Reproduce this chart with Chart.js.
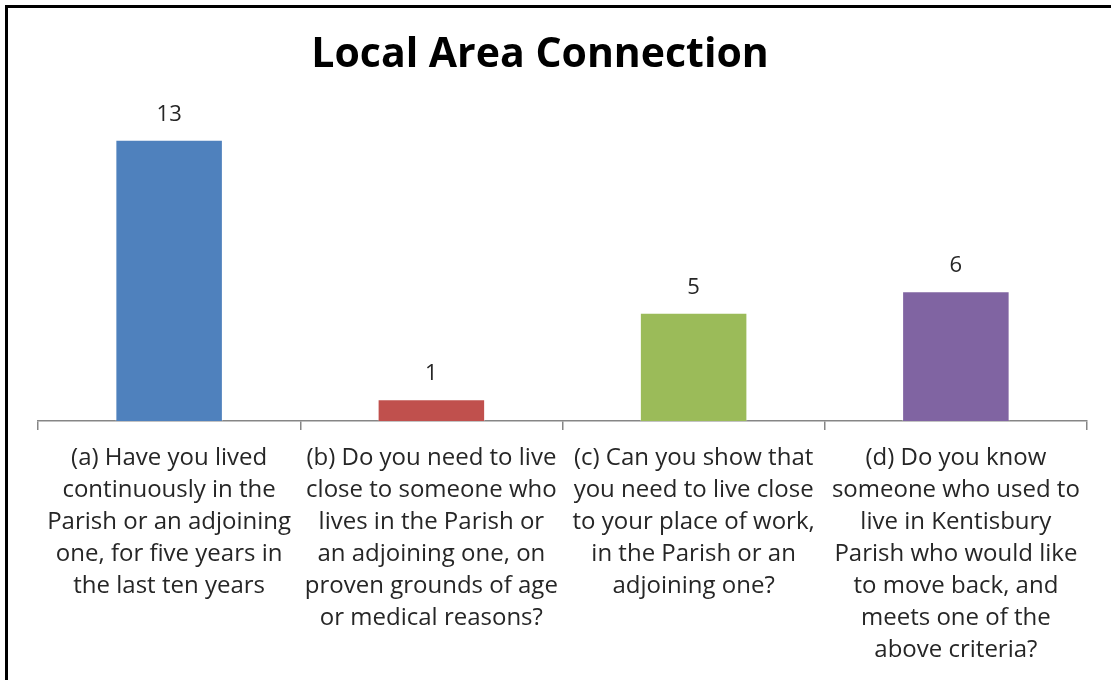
<!DOCTYPE html>
<html>
<head>
<meta charset="utf-8">
<script src="https://cdn.jsdelivr.net/npm/chart.js@4"></script>
<style>
  html, body { margin: 0; padding: 0; background: #fff; overflow: hidden; }
  #wrap { position: relative; width: 1111px; height: 680px; overflow: hidden; }
  #frame { position: absolute; left: 5px; top: 5px; width: 1200px; height: 800px;
           border-left: 3px solid #000; border-top: 3px solid #000; box-sizing: border-box; }
  canvas { position: absolute; left: 0; top: 0; }
</style>
</head>
<body>
<div id="wrap">
  <div id="frame"></div>
  <canvas id="barChart" width="1111" height="678"></canvas>
</div>
<script>
// chart data
const chartTitle = "Local Area Connection";
const categories = [
  ["(a) Have you lived", "continuously in the", "Parish or an adjoining", "one, for five years in", "the last ten years"],
  ["(b) Do you need to live", "close to someone who", "lives in the Parish or", "an adjoining one, on", "proven grounds of age", "or medical reasons?"],
  ["(c) Can you show that", "you need to live close", "to your place of work,", "in the Parish or an", "adjoining one?"],
  ["(d) Do you know", "someone who used to", "live in Kentisbury", "Parish who would like", "to move back, and", "meets one of the", "above criteria?"]
];
const answers = [13, 1, 5, 6];
const barColors = ["#4F81BD", "#C0504D", "#9BBB59", "#8064A2"];

const FONT = "'Open Sans', 'DejaVu Sans', sans-serif";

// value labels above bars
const valueLabels = {
  id: "valueLabels",
  afterDatasetsDraw(chart) {
    const c = chart.ctx;
    const meta = chart.getDatasetMeta(0);
    c.save();
    c.font = "22px " + FONT;
    c.fillStyle = "#262626";
    c.textAlign = "center";
    c.textBaseline = "alphabetic";
    meta.data.forEach((bar, i) => {
      c.fillText(String(answers[i]), bar.x, bar.y - 19);
    });
    c.restore();
  }
};

// title sits a bit left of centre in the original
const titleText = {
  id: "titleText",
  afterDraw(chart) {
    const c = chart.ctx;
    c.save();
    c.font = "bold 41px " + FONT;
    c.fillStyle = "#000";
    c.textAlign = "center";
    c.textBaseline = "alphabetic";
    c.fillText(chartTitle, 540, 67);
    c.restore();
  }
};

new Chart(document.getElementById("barChart"), {
  type: "bar",
  data: {
    labels: categories,
    datasets: [{
      data: answers,
      backgroundColor: barColors,
      borderColor: "rgba(255,255,255,0.35)",
      borderWidth: 1,
      categoryPercentage: 1,
      barPercentage: 0.41
    }]
  },
  options: {
    responsive: false,
    animation: false,
    layout: { padding: { top: 118, left: 38, right: 24, bottom: 0 } },
    plugins: {
      legend: { display: false },
      title: { display: false },
      tooltip: { enabled: false }
    },
    scales: {
      x: {
        offset: true,
        grid: {
          offset: true,
          drawOnChartArea: false,
          drawTicks: true,
          tickLength: 9,
          color: "#868686",
          lineWidth: 1.5
        },
        border: { display: true, color: "#868686", width: 1.5 },
        ticks: {
          color: "#262626",
          padding: 12,
          maxRotation: 0,
          autoSkip: false,
          font: { family: FONT, size: 24, lineHeight: 1.3333 }
        }
      },
      y: {
        display: false,
        min: 0,
        max: 14
      }
    }
  },
  plugins: [valueLabels, titleText]
});
</script>
</body>
</html>
